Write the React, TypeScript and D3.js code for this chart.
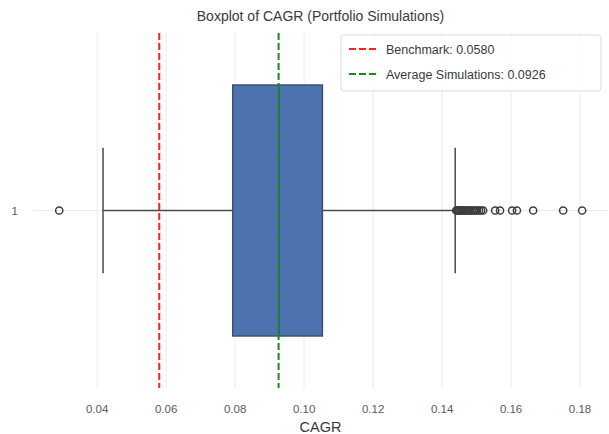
import React from "react";
import * as d3 from "d3";

// values
const categories = ["1"];
const boxQ1 = 0.0793;
const boxMedian = 0.0927;
const boxQ3 = 0.1053;
const whiskerLow = 0.0417;
const whiskerHigh = 0.1438;
const outliersLow = [0.029];
const outliersHigh = [
  0.1441, 0.1444, 0.1447, 0.145, 0.1453, 0.1456, 0.1459, 0.1462, 0.1466, 0.1469,
  0.1473, 0.1477, 0.1481, 0.1486, 0.1491, 0.1496, 0.1501, 0.1507, 0.1513, 0.1519,
  0.1554, 0.1568, 0.1603, 0.1617, 0.1664, 0.1751, 0.1806,
];
const benchmark = 0.058;
const averageSim = 0.0926;
const xTicks = [0.04, 0.06, 0.08, 0.1, 0.12, 0.14, 0.16, 0.18];

const W = 609;
const H = 434;
const margin = { top: 33, right: 1, bottom: 46, left: 33 };
const font = "'Liberation Sans', Arial, sans-serif";

const App: React.FC = () => {
  const x = d3
    .scaleLinear()
    .domain([0.0214, 0.1881])
    .range([margin.left, W - margin.right]);
  const y = d3
    .scaleBand()
    .domain(categories)
    .range([margin.top, H - margin.bottom])
    .padding(0);

  const cy = (y("1") || 0) + y.bandwidth() / 2;
  const boxH = y.bandwidth() * 0.707;
  const capH = boxH / 2;
  const outliers = [...outliersLow, ...outliersHigh];

  return (
    <svg
      width={W}
      height={H}
      style={{ position: "absolute", left: 0, top: 0, background: "#fff" }}
      fontFamily={font}
    >
      {/* grid */}
      {xTicks.map((t) => (
        <line
          key={t}
          x1={x(t)}
          x2={x(t)}
          y1={margin.top}
          y2={H - margin.bottom}
          stroke="#ebebeb"
          strokeWidth={1}
        />
      ))}
      <line
        x1={margin.left}
        x2={W - margin.right}
        y1={cy}
        y2={cy}
        stroke="#ebebeb"
        strokeWidth={1}
      />

      {/* whiskers */}
      <line x1={x(whiskerLow)} x2={x(boxQ1)} y1={cy} y2={cy} stroke="#4a4a4a" strokeWidth={1.5} />
      <line x1={x(boxQ3)} x2={x(whiskerHigh)} y1={cy} y2={cy} stroke="#4a4a4a" strokeWidth={1.5} />
      <line x1={x(whiskerLow)} x2={x(whiskerLow)} y1={cy - capH / 2} y2={cy + capH / 2} stroke="#4a4a4a" strokeWidth={1.5} />
      <line x1={x(whiskerHigh)} x2={x(whiskerHigh)} y1={cy - capH / 2} y2={cy + capH / 2} stroke="#4a4a4a" strokeWidth={1.5} />

      {/* box */}
      <rect
        x={x(boxQ1)}
        y={cy - boxH / 2}
        width={x(boxQ3) - x(boxQ1)}
        height={boxH}
        fill="#4c72b0"
        stroke="#3e4e6e"
        strokeWidth={1.5}
      />
      <line
        x1={x(boxMedian)}
        x2={x(boxMedian)}
        y1={cy - boxH / 2}
        y2={cy + boxH / 2}
        stroke="#3e4e6e"
        strokeWidth={1.5}
      />

      {/* outliers */}
      {outliers.map((v, i) => (
        <circle
          key={i}
          cx={x(v)}
          cy={cy}
          r={3.6}
          fill="none"
          stroke="#3d3d3d"
          strokeWidth={1.5}
        />
      ))}

      {/* reference lines */}
      <line
        x1={x(benchmark)}
        x2={x(benchmark)}
        y1={margin.top}
        y2={H - margin.bottom}
        stroke="#ff2020"
        strokeWidth={2}
        strokeDasharray="7,3"
      />
      <line
        x1={x(averageSim)}
        x2={x(averageSim)}
        y1={margin.top}
        y2={H - margin.bottom}
        stroke="#1a8a1a"
        strokeWidth={2}
        strokeDasharray="7,3"
      />

      {/* axes labels */}
      {xTicks.map((t) => (
        <text
          key={t}
          x={x(t)}
          y={413}
          textAnchor="middle"
          fontSize={11.5}
          fill="#5a5a5a"
        >
          {t.toFixed(2)}
        </text>
      ))}
      {categories.map((c) => (
        <text
          key={c}
          x={18}
          y={cy + 4}
          textAnchor="end"
          fontSize={11.5}
          fill="#5a5a5a"
        >
          {c}
        </text>
      ))}
      <text x={(margin.left + W - margin.right) / 2} y={432} textAnchor="middle" fontSize={14.5} fill="#3a3a3a">
        CAGR
      </text>
      <text x={(margin.left + W - margin.right) / 2} y={21} textAnchor="middle" fontSize={14} fill="#3a3a3a">
        Boxplot of CAGR (Portfolio Simulations)
      </text>

      {/* legend */}
      <g transform="translate(341,35)">
        <rect width={260} height={56} rx={3} fill="#fff" fillOpacity={0.85} stroke="#dddddd" />
        <line x1={8} x2={36} y1={14} y2={14} stroke="#ff2020" strokeWidth={2} strokeDasharray="7,3" />
        <text x={45} y={18.5} fontSize={12.5} fill="#3a3a3a">
          Benchmark: {benchmark.toFixed(4)}
        </text>
        <line x1={8} x2={36} y1={39} y2={39} stroke="#1a8a1a" strokeWidth={2} strokeDasharray="7,3" />
        <text x={45} y={43.5} fontSize={12.5} fill="#3a3a3a">
          Average Simulations: {averageSim.toFixed(4)}
        </text>
      </g>
    </svg>
  );
};

export default App;
